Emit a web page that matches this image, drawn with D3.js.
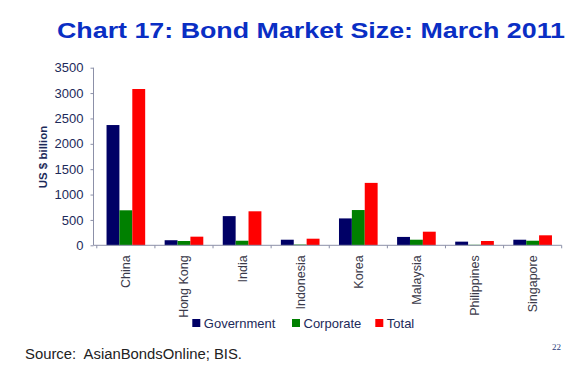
<!DOCTYPE html>
<html>
<head>
<meta charset="utf-8">
<script src="https://cdn.jsdelivr.net/npm/d3@7"></script>
<style>
  html, body { margin: 0; padding: 0; background: #fff; }
  svg { display: block; font-family: "Liberation Sans", Arial, sans-serif; }
</style>
</head>
<body>
<svg id="chart" width="575" height="370"></svg>
<script>
const categories = ["China", "Hong Kong", "India", "Indonesia", "Korea", "Malaysia", "Philippines", "Singapore"];
const seriesNames = ["Government", "Corporate", "Total"];
const government = [2370, 100, 575, 110, 530, 165, 72, 110];
const corporate  = [690, 85, 90, 15, 695, 110, 10, 90];
const total      = [3080, 170, 670, 130, 1230, 268, 85, 197];
const yTicks = [0, 500, 1000, 1500, 2000, 2500, 3000, 3500];
const colors = ["#000066", "#008000", "#ff0000"];

const svg = d3.select("#chart");
const axisCol = "#8c90a8";
const labelCol = "#1c2a5a";

const x0 = d3.scaleBand().domain(categories).range([96.8, 561.7]).paddingInner(0.335).paddingOuter(0.1675);
const x1 = d3.scaleBand().domain(seriesNames).range([0, x0.bandwidth()]);
const y = d3.scaleLinear().domain([0, 3500]).range([245.3, 67.7]);

const seriesVals = [government, corporate, total];

// Title
svg.append("text")
  .attr("x", 57).attr("y", 38.3)
  .attr("font-size", 22).attr("font-weight", "bold")
  .attr("fill", "#0a2ec4")
  .attr("textLength", 508).attr("lengthAdjust", "spacingAndGlyphs")
  .text("Chart 17: Bond Market Size: March 2011");

// Bars
const groups = svg.append("g").selectAll("g")
  .data(categories).join("g")
  .attr("transform", d => `translate(${x0(d)},0)`);

groups.selectAll("rect")
  .data((d, i) => seriesNames.map((s, k) => ({ s, v: seriesVals[k][i], k })))
  .join("rect")
  .attr("x", d => x1(d.s))
  .attr("width", x1.bandwidth())
  .attr("y", d => y(d.v))
  .attr("height", d => y(0) - y(d.v))
  .attr("fill", d => colors[d.k]);

// Y axis
const yAxis = d3.axisLeft(y).tickValues(yTicks).tickSize(3).tickPadding(7).tickFormat(d3.format("d"));
const gy = svg.append("g").attr("transform", "translate(93.5,0)").call(yAxis);
gy.select(".domain").attr("stroke", axisCol).attr("d", `M0,${y(3500)}V${y(0)}`);
gy.selectAll(".tick line").attr("stroke", axisCol);
gy.selectAll(".tick text").attr("fill", labelCol).attr("font-size", 13)
  .attr("font-family", "Liberation Sans, Arial, sans-serif");

// X axis
const gx = svg.append("g").attr("transform", `translate(0,${y(0)})`);
gx.append("line").attr("x1", 93.5).attr("x2", 561.7).attr("y1", 0).attr("y2", 0).attr("stroke", axisCol);
const boundaries = categories.map(c => x0(c) - x0.step() * x0.paddingInner() / 2);
boundaries.push(x0(categories[categories.length - 1]) + x0.bandwidth() + x0.step() * x0.paddingInner() / 2);
gx.selectAll("line.tk").data(boundaries).join("line").attr("class", "tk")
  .attr("x1", d => d).attr("x2", d => d).attr("y1", 0).attr("y2", 3).attr("stroke", axisCol);
gx.selectAll("text").data(categories).join("text")
  .attr("transform", d => `translate(${x0(d) + x0.bandwidth() / 2 + 4.5},10) rotate(-90)`)
  .attr("text-anchor", "end")
  .attr("font-size", 12.5)
  .attr("fill", "#3a3a4a")
  .text(d => d);

// Y label
svg.append("text")
  .attr("transform", "translate(47,157) rotate(-90)")
  .attr("text-anchor", "middle")
  .attr("font-size", 11.5).attr("font-weight", "bold")
  .attr("fill", labelCol)
  .text("US $ billion");

// Legend
const legendX = [192.3, 292, 375.3];
const leg = svg.append("g").selectAll("g").data(seriesNames).join("g")
  .attr("transform", (d, i) => `translate(${legendX[i]},319)`);
leg.append("rect").attr("width", 8).attr("height", 8).attr("fill", (d, i) => colors[i]);
leg.append("text").attr("x", 11.5).attr("y", 8.5).attr("font-size", 13).attr("fill", labelCol).text(d => d);

// Source
svg.append("text").attr("x", 25).attr("y", 359).attr("font-size", 14).attr("fill", "#222")
  .attr("xml:space", "preserve")
  .attr("textLength", 217).attr("lengthAdjust", "spacingAndGlyphs")
  .text("Source:  AsianBondsOnline; BIS.");

// Page number
svg.append("text").attr("x", 552).attr("y", 350).attr("font-size", 9)
  .attr("font-family", "Liberation Serif, serif").attr("fill", "#2a3a7a")
  .text("22");
</script>
</body>
</html>
